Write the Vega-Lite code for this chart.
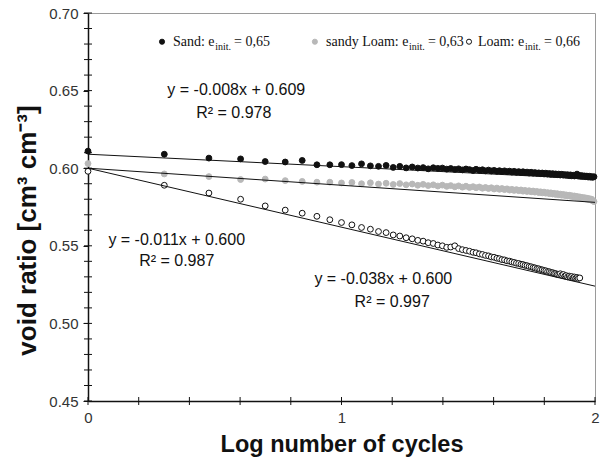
{
"$schema": "https://vega.github.io/schema/vega-lite/v6.json",
"width": 507, "height": 388,
"autosize": "none",
"padding": {"left": 88, "top": 13, "right": 6, "bottom": 62},
"background": "white",
"config": {"view": {"stroke": "#9a9a9a", "strokeWidth": 1}, "font": "Liberation Sans"},
"datasets": {
"pts": [
{"s":"Sand","x":0,"y":0.611},{"s":"Sand","x":0.301,"y":0.609},{"s":"Sand","x":0.477,"y":0.6065},{"s":"Sand","x":0.602,"y":0.606},{"s":"Sand","x":0.699,"y":0.6043},{"s":"Sand","x":0.778,"y":0.604},{"s":"Sand","x":0.845,"y":0.605},{"s":"Sand","x":0.903,"y":0.6022},{"s":"Sand","x":0.954,"y":0.6022},{"s":"Sand","x":1,"y":0.6023},
{"s":"Sand","x":1.041,"y":0.6017},{"s":"Sand","x":1.079,"y":0.6028},{"s":"Sand","x":1.114,"y":0.6015},{"s":"Sand","x":1.146,"y":0.6012},{"s":"Sand","x":1.176,"y":0.6018},{"s":"Sand","x":1.204,"y":0.6005},{"s":"Sand","x":1.23,"y":0.6012},{"s":"Sand","x":1.255,"y":0.6002},{"s":"Sand","x":1.279,"y":0.6008},{"s":"Sand","x":1.301,"y":0.6001},
{"s":"Sand","x":1.322,"y":0.6004},{"s":"Sand","x":1.342,"y":0.5996},{"s":"Sand","x":1.362,"y":0.6003},{"s":"Sand","x":1.38,"y":0.5999},{"s":"Sand","x":1.398,"y":0.6001},{"s":"Sand","x":1.415,"y":0.5994},{"s":"Sand","x":1.431,"y":0.5998},{"s":"Sand","x":1.447,"y":0.5992},{"s":"Sand","x":1.462,"y":0.5996},{"s":"Sand","x":1.477,"y":0.5989},
{"s":"Sand","x":1.491,"y":0.5995},{"s":"Sand","x":1.505,"y":0.5991},{"s":"Sand","x":1.519,"y":0.5985},{"s":"Sand","x":1.531,"y":0.5993},{"s":"Sand","x":1.544,"y":0.5987},{"s":"Sand","x":1.556,"y":0.599},{"s":"Sand","x":1.568,"y":0.5983},{"s":"Sand","x":1.58,"y":0.5988},{"s":"Sand","x":1.591,"y":0.5982},{"s":"Sand","x":1.602,"y":0.5986},
{"s":"Sand","x":1.613,"y":0.598},{"s":"Sand","x":1.623,"y":0.5984},{"s":"Sand","x":1.633,"y":0.5978},{"s":"Sand","x":1.643,"y":0.5983},{"s":"Sand","x":1.653,"y":0.5977},{"s":"Sand","x":1.663,"y":0.5981},{"s":"Sand","x":1.672,"y":0.5975},{"s":"Sand","x":1.681,"y":0.598},{"s":"Sand","x":1.69,"y":0.5974},{"s":"Sand","x":1.699,"y":0.5978},
{"s":"Sand","x":1.708,"y":0.5972},{"s":"Sand","x":1.716,"y":0.5977},{"s":"Sand","x":1.724,"y":0.5971},{"s":"Sand","x":1.732,"y":0.5975},{"s":"Sand","x":1.74,"y":0.5969},{"s":"Sand","x":1.748,"y":0.5974},{"s":"Sand","x":1.756,"y":0.5968},{"s":"Sand","x":1.763,"y":0.5972},{"s":"Sand","x":1.771,"y":0.5967},{"s":"Sand","x":1.778,"y":0.597},
{"s":"Sand","x":1.785,"y":0.5965},{"s":"Sand","x":1.792,"y":0.5969},{"s":"Sand","x":1.799,"y":0.5963},{"s":"Sand","x":1.806,"y":0.5968},{"s":"Sand","x":1.813,"y":0.5962},{"s":"Sand","x":1.82,"y":0.5966},{"s":"Sand","x":1.826,"y":0.596},{"s":"Sand","x":1.833,"y":0.5965},{"s":"Sand","x":1.839,"y":0.5959},{"s":"Sand","x":1.845,"y":0.5963},
{"s":"Sand","x":1.851,"y":0.5958},{"s":"Sand","x":1.857,"y":0.5962},{"s":"Sand","x":1.863,"y":0.5956},{"s":"Sand","x":1.869,"y":0.5961},{"s":"Sand","x":1.875,"y":0.5955},{"s":"Sand","x":1.881,"y":0.5959},{"s":"Sand","x":1.886,"y":0.5954},{"s":"Sand","x":1.892,"y":0.5958},{"s":"Sand","x":1.898,"y":0.5952},{"s":"Sand","x":1.903,"y":0.5957},
{"s":"Sand","x":1.908,"y":0.5951},{"s":"Sand","x":1.914,"y":0.5955},{"s":"Sand","x":1.919,"y":0.595},{"s":"Sand","x":1.924,"y":0.5954},{"s":"Sand","x":1.929,"y":0.5962},{"s":"Sand","x":1.934,"y":0.5949},{"s":"Sand","x":1.94,"y":0.5953},{"s":"Sand","x":1.944,"y":0.5947},{"s":"Sand","x":1.949,"y":0.5952},{"s":"Sand","x":1.954,"y":0.5946},
{"s":"Sand","x":1.959,"y":0.595},{"s":"Sand","x":1.964,"y":0.5945},{"s":"Sand","x":1.968,"y":0.5949},{"s":"Sand","x":1.973,"y":0.5943},{"s":"Sand","x":1.978,"y":0.5948},{"s":"Sand","x":1.982,"y":0.5942},{"s":"Sand","x":1.987,"y":0.5946},{"s":"Sand","x":1.991,"y":0.5941},{"s":"Sand","x":1.996,"y":0.5945},
{"s":"sandy Loam","x":0,"y":0.603},{"s":"sandy Loam","x":0.301,"y":0.5963},{"s":"sandy Loam","x":0.477,"y":0.5946},{"s":"sandy Loam","x":0.602,"y":0.5927},{"s":"sandy Loam","x":0.699,"y":0.593},{"s":"sandy Loam","x":0.778,"y":0.592},{"s":"sandy Loam","x":0.845,"y":0.5915},{"s":"sandy Loam","x":0.903,"y":0.591},{"s":"sandy Loam","x":0.954,"y":0.591},{"s":"sandy Loam","x":1,"y":0.5905},
{"s":"sandy Loam","x":1.041,"y":0.5908},{"s":"sandy Loam","x":1.079,"y":0.59},{"s":"sandy Loam","x":1.114,"y":0.5906},{"s":"sandy Loam","x":1.146,"y":0.5898},{"s":"sandy Loam","x":1.176,"y":0.5903},{"s":"sandy Loam","x":1.204,"y":0.5895},{"s":"sandy Loam","x":1.23,"y":0.5901},{"s":"sandy Loam","x":1.255,"y":0.5893},{"s":"sandy Loam","x":1.279,"y":0.5898},{"s":"sandy Loam","x":1.301,"y":0.589},
{"s":"sandy Loam","x":1.322,"y":0.5896},{"s":"sandy Loam","x":1.342,"y":0.5888},{"s":"sandy Loam","x":1.362,"y":0.5893},{"s":"sandy Loam","x":1.38,"y":0.5885},{"s":"sandy Loam","x":1.398,"y":0.5891},{"s":"sandy Loam","x":1.415,"y":0.5883},{"s":"sandy Loam","x":1.431,"y":0.5888},{"s":"sandy Loam","x":1.447,"y":0.588},{"s":"sandy Loam","x":1.462,"y":0.5886},{"s":"sandy Loam","x":1.477,"y":0.5878},
{"s":"sandy Loam","x":1.491,"y":0.5884},{"s":"sandy Loam","x":1.505,"y":0.5876},{"s":"sandy Loam","x":1.519,"y":0.5881},{"s":"sandy Loam","x":1.531,"y":0.5874},{"s":"sandy Loam","x":1.544,"y":0.5879},{"s":"sandy Loam","x":1.556,"y":0.5871},{"s":"sandy Loam","x":1.568,"y":0.5876},{"s":"sandy Loam","x":1.58,"y":0.5869},{"s":"sandy Loam","x":1.591,"y":0.5874},{"s":"sandy Loam","x":1.602,"y":0.5866},
{"s":"sandy Loam","x":1.613,"y":0.5872},{"s":"sandy Loam","x":1.623,"y":0.5864},{"s":"sandy Loam","x":1.633,"y":0.5869},{"s":"sandy Loam","x":1.643,"y":0.5862},{"s":"sandy Loam","x":1.653,"y":0.5867},{"s":"sandy Loam","x":1.663,"y":0.5859},{"s":"sandy Loam","x":1.672,"y":0.5864},{"s":"sandy Loam","x":1.681,"y":0.5857},{"s":"sandy Loam","x":1.69,"y":0.5862},{"s":"sandy Loam","x":1.699,"y":0.5855},
{"s":"sandy Loam","x":1.708,"y":0.586},{"s":"sandy Loam","x":1.716,"y":0.5852},{"s":"sandy Loam","x":1.724,"y":0.5857},{"s":"sandy Loam","x":1.732,"y":0.585},{"s":"sandy Loam","x":1.74,"y":0.5855},{"s":"sandy Loam","x":1.748,"y":0.5848},{"s":"sandy Loam","x":1.756,"y":0.5853},{"s":"sandy Loam","x":1.763,"y":0.5846},{"s":"sandy Loam","x":1.771,"y":0.585},{"s":"sandy Loam","x":1.778,"y":0.5843},
{"s":"sandy Loam","x":1.785,"y":0.5848},{"s":"sandy Loam","x":1.792,"y":0.5841},{"s":"sandy Loam","x":1.799,"y":0.5846},{"s":"sandy Loam","x":1.806,"y":0.5839},{"s":"sandy Loam","x":1.813,"y":0.5843},{"s":"sandy Loam","x":1.82,"y":0.5836},{"s":"sandy Loam","x":1.826,"y":0.5841},{"s":"sandy Loam","x":1.833,"y":0.5834},{"s":"sandy Loam","x":1.839,"y":0.5838},{"s":"sandy Loam","x":1.845,"y":0.5831},
{"s":"sandy Loam","x":1.851,"y":0.5836},{"s":"sandy Loam","x":1.857,"y":0.5829},{"s":"sandy Loam","x":1.863,"y":0.5833},{"s":"sandy Loam","x":1.869,"y":0.5826},{"s":"sandy Loam","x":1.875,"y":0.5831},{"s":"sandy Loam","x":1.881,"y":0.5824},{"s":"sandy Loam","x":1.886,"y":0.5828},{"s":"sandy Loam","x":1.892,"y":0.5821},{"s":"sandy Loam","x":1.898,"y":0.5826},{"s":"sandy Loam","x":1.903,"y":0.5819},
{"s":"sandy Loam","x":1.908,"y":0.5823},{"s":"sandy Loam","x":1.914,"y":0.5816},{"s":"sandy Loam","x":1.919,"y":0.5821},{"s":"sandy Loam","x":1.924,"y":0.5813},{"s":"sandy Loam","x":1.929,"y":0.5818},{"s":"sandy Loam","x":1.934,"y":0.5811},{"s":"sandy Loam","x":1.94,"y":0.5815},{"s":"sandy Loam","x":1.944,"y":0.5808},{"s":"sandy Loam","x":1.949,"y":0.5812},{"s":"sandy Loam","x":1.954,"y":0.5805},
{"s":"sandy Loam","x":1.959,"y":0.581},{"s":"sandy Loam","x":1.964,"y":0.5802},{"s":"sandy Loam","x":1.968,"y":0.5807},{"s":"sandy Loam","x":1.973,"y":0.5799},{"s":"sandy Loam","x":1.978,"y":0.5804},{"s":"sandy Loam","x":1.982,"y":0.5796},{"s":"sandy Loam","x":1.987,"y":0.58},{"s":"sandy Loam","x":1.991,"y":0.579},{"s":"sandy Loam","x":1.996,"y":0.5785},
{"s":"Loam","x":0,"y":0.598},{"s":"Loam","x":0.301,"y":0.589},{"s":"Loam","x":0.477,"y":0.584},{"s":"Loam","x":0.602,"y":0.58},{"s":"Loam","x":0.699,"y":0.5757},{"s":"Loam","x":0.778,"y":0.573},{"s":"Loam","x":0.845,"y":0.571},{"s":"Loam","x":0.903,"y":0.569},{"s":"Loam","x":0.954,"y":0.5668},{"s":"Loam","x":1,"y":0.565},
{"s":"Loam","x":1.041,"y":0.5635},{"s":"Loam","x":1.079,"y":0.5618},{"s":"Loam","x":1.114,"y":0.5607},{"s":"Loam","x":1.146,"y":0.5592},{"s":"Loam","x":1.176,"y":0.5585},{"s":"Loam","x":1.204,"y":0.557},{"s":"Loam","x":1.23,"y":0.5563},{"s":"Loam","x":1.255,"y":0.5552},{"s":"Loam","x":1.279,"y":0.5545},{"s":"Loam","x":1.301,"y":0.5535},
{"s":"Loam","x":1.322,"y":0.553},{"s":"Loam","x":1.342,"y":0.552},{"s":"Loam","x":1.362,"y":0.5515},{"s":"Loam","x":1.38,"y":0.5505},{"s":"Loam","x":1.398,"y":0.55},{"s":"Loam","x":1.415,"y":0.549},{"s":"Loam","x":1.431,"y":0.5492},{"s":"Loam","x":1.447,"y":0.55},{"s":"Loam","x":1.462,"y":0.5482},{"s":"Loam","x":1.477,"y":0.5475},
{"s":"Loam","x":1.491,"y":0.547},{"s":"Loam","x":1.505,"y":0.5465},{"s":"Loam","x":1.519,"y":0.5458},{"s":"Loam","x":1.531,"y":0.5455},{"s":"Loam","x":1.544,"y":0.5448},{"s":"Loam","x":1.556,"y":0.5444},{"s":"Loam","x":1.568,"y":0.5438},{"s":"Loam","x":1.58,"y":0.5435},{"s":"Loam","x":1.591,"y":0.5428},{"s":"Loam","x":1.602,"y":0.5426},
{"s":"Loam","x":1.613,"y":0.542},{"s":"Loam","x":1.623,"y":0.5417},{"s":"Loam","x":1.633,"y":0.5411},{"s":"Loam","x":1.643,"y":0.5409},{"s":"Loam","x":1.653,"y":0.5403},{"s":"Loam","x":1.663,"y":0.5401},{"s":"Loam","x":1.672,"y":0.5396},{"s":"Loam","x":1.681,"y":0.5393},{"s":"Loam","x":1.69,"y":0.5388},{"s":"Loam","x":1.699,"y":0.5386},
{"s":"Loam","x":1.708,"y":0.5381},{"s":"Loam","x":1.716,"y":0.5379},{"s":"Loam","x":1.724,"y":0.5374},{"s":"Loam","x":1.732,"y":0.5372},{"s":"Loam","x":1.74,"y":0.5367},{"s":"Loam","x":1.748,"y":0.5365},{"s":"Loam","x":1.756,"y":0.536},{"s":"Loam","x":1.763,"y":0.5358},{"s":"Loam","x":1.771,"y":0.5353},{"s":"Loam","x":1.778,"y":0.5352},
{"s":"Loam","x":1.785,"y":0.5347},{"s":"Loam","x":1.792,"y":0.5345},{"s":"Loam","x":1.799,"y":0.5341},{"s":"Loam","x":1.806,"y":0.5339},{"s":"Loam","x":1.813,"y":0.5334},{"s":"Loam","x":1.82,"y":0.5333},{"s":"Loam","x":1.826,"y":0.5328},{"s":"Loam","x":1.833,"y":0.5327},{"s":"Loam","x":1.839,"y":0.5322},{"s":"Loam","x":1.845,"y":0.5321},
{"s":"Loam","x":1.851,"y":0.5316},{"s":"Loam","x":1.857,"y":0.5315},{"s":"Loam","x":1.863,"y":0.532},{"s":"Loam","x":1.869,"y":0.531},{"s":"Loam","x":1.875,"y":0.5315},{"s":"Loam","x":1.881,"y":0.5305},{"s":"Loam","x":1.886,"y":0.5308},{"s":"Loam","x":1.892,"y":0.53},{"s":"Loam","x":1.898,"y":0.5305},{"s":"Loam","x":1.903,"y":0.5297},
{"s":"Loam","x":1.908,"y":0.5302},{"s":"Loam","x":1.914,"y":0.5294},{"s":"Loam","x":1.919,"y":0.5299},{"s":"Loam","x":1.924,"y":0.5291},{"s":"Loam","x":1.929,"y":0.5296},{"s":"Loam","x":1.934,"y":0.529},{"s":"Loam","x":1.94,"y":0.5293}
],
"fits": [
{"s":"Sand","x":0,"y":0.609},{"s":"Sand","x":2,"y":0.593},
{"s":"sandy Loam","x":0,"y":0.600},{"s":"sandy Loam","x":2,"y":0.578},
{"s":"Loam","x":0,"y":0.600},{"s":"Loam","x":2,"y":0.524}
],
"eqs": [
{"x":0.585,"y":0.6502,"t":"y = -0.008x + 0.609"},
{"x":0.575,"y":0.6354,"t":"R² = 0.978"},
{"x":0.35,"y":0.554,"t":"y = -0.011x + 0.600"},
{"x":0.35,"y":0.5405,"t":"R² = 0.987"},
{"x":1.165,"y":0.5284,"t":"y = -0.038x + 0.600"},
{"x":1.2,"y":0.514,"t":"R² = 0.997"}
],
"leg": [
{"s":"Sand","x":0.292,"y":0.6815},
{"s":"sandy Loam","x":0.895,"y":0.6815},
{"s":"Loam","x":1.503,"y":0.6815}
],
"legtxt": [
{"x":0.335,"y":0.6815,"t":"Sand: e"},
{"x":0.576,"y":0.6815,"t":"= 0,65"},
{"x":0.939,"y":0.6815,"t":"sandy Loam: e"},
{"x":1.341,"y":0.6815,"t":"= 0,63"},
{"x":1.538,"y":0.6815,"t":"Loam: e"},
{"x":1.799,"y":0.6815,"t":"= 0,66"}
],
"legsub": [
{"x":0.502,"y":0.6815,"t":"init."},
{"x":1.266,"y":0.6815,"t":"init."},
{"x":1.724,"y":0.6815,"t":"init."}
],
"yt": [
{"v":0.45},{"v":0.46},{"v":0.47},{"v":0.48},{"v":0.49},{"v":0.5},{"v":0.51},{"v":0.52},{"v":0.53},{"v":0.54},{"v":0.55},{"v":0.56},{"v":0.57},
{"v":0.58},{"v":0.59},{"v":0.6},{"v":0.61},{"v":0.62},{"v":0.63},{"v":0.64},{"v":0.65},{"v":0.66},{"v":0.67},{"v":0.68},{"v":0.69},{"v":0.7}
],
"xt": [
{"v":0},{"v":0.2},{"v":0.4},{"v":0.6},{"v":0.8},{"v":1},{"v":1.2},{"v":1.4},{"v":1.6},{"v":1.8},{"v":2}
]
},
"layer": [
{
"data": {"name": "pts"},
"mark": {"type": "point", "shape": "circle", "size": 34, "strokeWidth": 1, "opacity": 1, "filled": false},
"encoding": {
"x": {"field": "x", "type": "quantitative", "scale": {"domain": [0, 2], "nice": false, "zero": false},
"axis": {"values": [0,0.2,0.4,0.6,0.8,1,1.2,1.4,1.6,1.8,2], "labelExpr": "abs(datum.value - round(datum.value)) < 0.001 ? format(datum.value, 'd') : ''",
"title": "Log number of cycles", "titleFont": "Liberation Sans", "titleFontSize": 23.5, "titleFontWeight": "bold", "titleColor": "#111", "titlePadding": 7,
"labelFont": "Liberation Sans", "labelFontSize": 15, "labelColor": "#333", "labelPadding": 9, "labelFlush": false, "labelOverlap": false,
"domainColor": "#111", "domainWidth": 1.5, "ticks": false, "grid": false}},
"y": {"field": "y", "type": "quantitative", "scale": {"domain": [0.45, 0.70], "nice": false, "zero": false},
"axis": {"values": [0.45, 0.5, 0.55, 0.6, 0.65, 0.7], "format": ".2f",
"title": "void ratio [cm³ cm⁻³]", "titleFont": "Liberation Sans", "titleFontSize": 26, "titleFontWeight": "bold", "titleColor": "#111", "titlePadding": 8, "titleY": 217,
"labelFont": "Liberation Sans", "labelFontSize": 15, "labelColor": "#333", "labelPadding": 5, "labelFlush": false, "labelOverlap": false,
"domainColor": "#111", "domainWidth": 1.5, "tickColor": "#111", "tickSize": 5, "tickWidth": 1, "grid": false}},
"fill": {"field": "s", "type": "nominal", "scale": {"domain": ["Sand", "sandy Loam", "Loam"], "range": ["#111111", "#b8b8b8", "#ffffff"]}, "legend": null},
"stroke": {"field": "s", "type": "nominal", "scale": {"domain": ["Sand", "sandy Loam", "Loam"], "range": ["#111111", "#b8b8b8", "#111111"]}, "legend": null}
}
},
{
"data": {"name": "yt"},
"mark": {"type": "tick", "orient": "horizontal", "size": 8, "thickness": 1, "color": "#111", "opacity": 1},
"encoding": {
"y": {"field": "v", "type": "quantitative"},
"x": {"datum": 0}
}
},
{
"data": {"name": "xt"},
"mark": {"type": "tick", "orient": "vertical", "size": 8, "thickness": 1, "color": "#111", "opacity": 1},
"encoding": {
"x": {"field": "v", "type": "quantitative"},
"y": {"datum": 0.45}
}
},
{
"data": {"name": "fits"},
"mark": {"type": "line", "color": "#111", "strokeWidth": 1},
"encoding": {
"x": {"field": "x", "type": "quantitative"},
"y": {"field": "y", "type": "quantitative"},
"detail": {"field": "s", "type": "nominal"}
}
},
{
"data": {"name": "leg"},
"mark": {"type": "point", "shape": "circle", "size": 26, "strokeWidth": 1, "opacity": 1, "filled": false},
"encoding": {
"x": {"field": "x", "type": "quantitative"},
"y": {"field": "y", "type": "quantitative"},
"fill": {"field": "s", "type": "nominal", "legend": null},
"stroke": {"field": "s", "type": "nominal", "legend": null}
}
},
{
"data": {"name": "legtxt"},
"mark": {"type": "text", "font": "Liberation Serif", "fontSize": 14, "align": "left", "baseline": "middle", "color": "#111"},
"encoding": {
"x": {"field": "x", "type": "quantitative"},
"y": {"field": "y", "type": "quantitative"},
"text": {"field": "t", "type": "nominal"}
}
},
{
"data": {"name": "legsub"},
"mark": {"type": "text", "font": "Liberation Serif", "fontSize": 10, "align": "left", "baseline": "middle", "dy": 5, "color": "#111"},
"encoding": {
"x": {"field": "x", "type": "quantitative"},
"y": {"field": "y", "type": "quantitative"},
"text": {"field": "t", "type": "nominal"}
}
},
{
"data": {"name": "eqs"},
"mark": {"type": "text", "font": "Liberation Sans", "fontSize": 16, "align": "center", "baseline": "middle", "color": "#111"},
"encoding": {
"x": {"field": "x", "type": "quantitative"},
"y": {"field": "y", "type": "quantitative"},
"text": {"field": "t", "type": "nominal"}
}
}
]
}
